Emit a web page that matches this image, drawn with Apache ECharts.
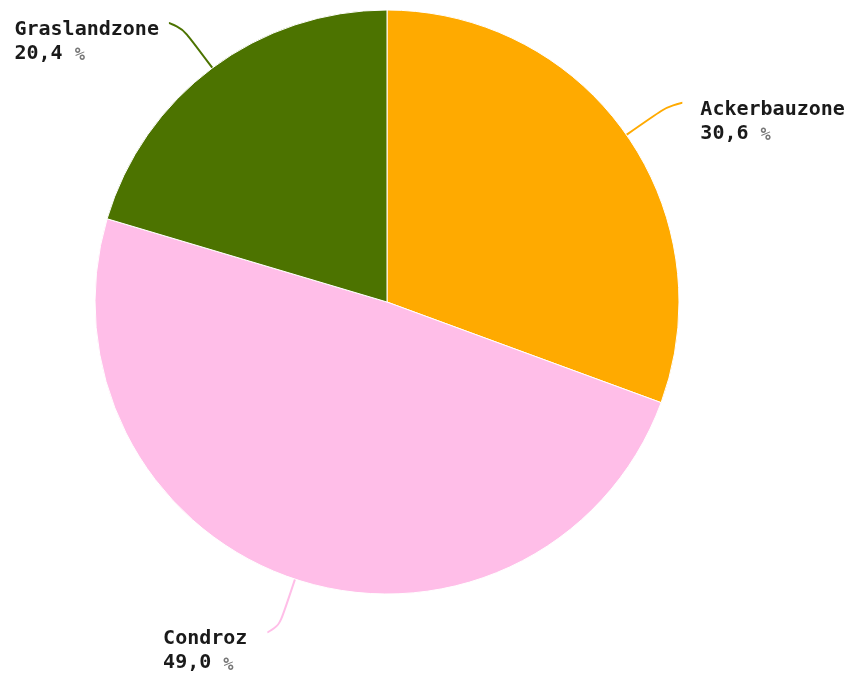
<!DOCTYPE html>
<html>
<head>
<meta charset="utf-8">
<script src="https://cdn.jsdelivr.net/npm/echarts@6/dist/echarts.min.js"></script>
<style>
html,body{margin:0;padding:0;background:#fff;}
#chart{width:848px;height:673px;}
</style>
</head>
<body>
<div id="chart"></div>
<script>
const categories = ['Ackerbauzone', 'Condroz', 'Graslandzone'];
const values = [30.6, 49.0, 20.4];
const colors = ['#FFAA00', '#FFBEE8', '#4C7300'];
const labelDistances = [18, 20, 10];

const chart = echarts.init(document.getElementById('chart'), null, {renderer: 'canvas'});

const data = categories.map((name, i) => ({
  name: name,
  value: values[i],
  itemStyle: {color: colors[i]},
  label: {distanceToLabelLine: labelDistances[i]}
}));

chart.setOption({
  animation: false,
  backgroundColor: '#ffffff',
  series: [{
    type: 'pie',
    center: [387, 302],
    radius: 292,
    startAngle: 90,
    clockwise: true,
    avoidLabelOverlap: false,
    data: data,
    itemStyle: {borderColor: '#ffffff', borderWidth: 1},
    label: {
      show: true,
      position: 'outside',
      bleedMargin: 0,
      padding: [38, 0, 0, 0],
      formatter: function (p) {
        return '{n|' + p.name + '}\n{v|' + p.value.toFixed(1).replace('.', ',') + ' }{p|%}';
      },
      rich: {
        n: {fontFamily: 'DejaVu Sans Mono', fontWeight: 'bold', fontSize: 20, lineHeight: 24, color: '#1a1a1a', align: 'left'},
        v: {fontFamily: 'DejaVu Sans Mono', fontWeight: 'bold', fontSize: 20, lineHeight: 24, color: '#1a1a1a', align: 'left'},
        p: {fontFamily: 'DejaVu Sans Mono', fontWeight: 'bold', fontSize: 17, lineHeight: 24, color: '#777777', align: 'left', padding: [4, 0, 0, 0]}
      }
    },
    labelLine: {
      show: true,
      length: 56,
      length2: 10,
      smooth: 0.9,
      lineStyle: {width: 2}
    }
  }]
});
</script>
</body>
</html>
